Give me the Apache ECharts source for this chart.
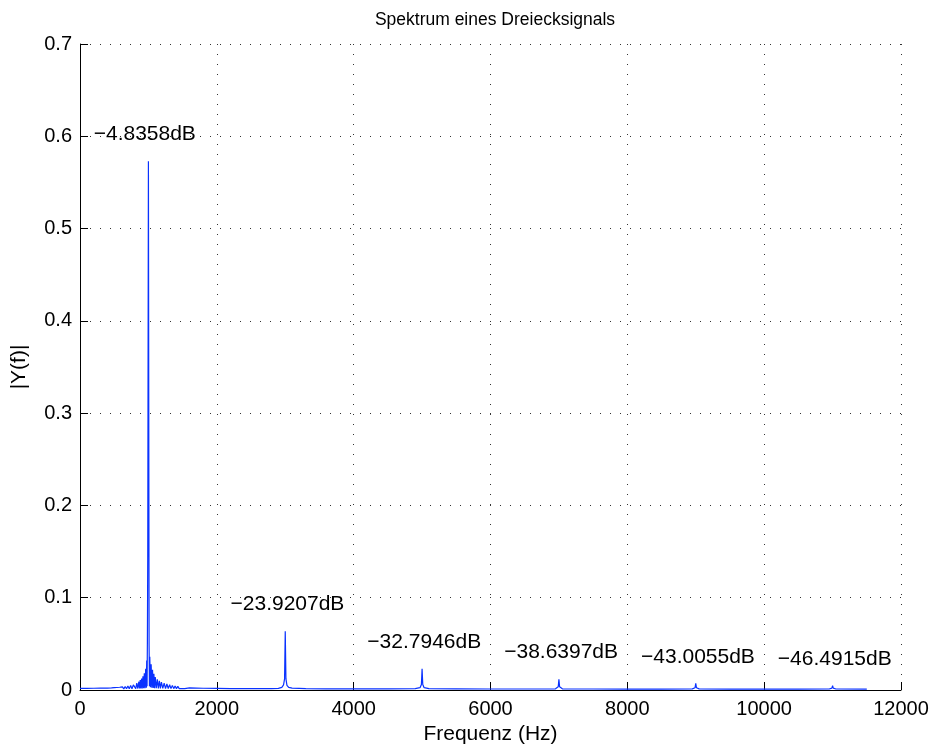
<!DOCTYPE html>
<html>
<head>
<meta charset="utf-8">
<title>Spektrum eines Dreiecksignals</title>
<script src="https://cdn.jsdelivr.net/npm/echarts@6/dist/echarts.min.js"></script>
<style>
  html, body { margin: 0; padding: 0; background: #ffffff; }
  #chart { width: 936px; height: 749px; }
</style>
</head>
<body>
<div id="chart"></div>
<script>
// Harmonics of the triangle wave and their levels in dB
const peakFreq = [1000, 3000, 5000, 7000, 9000, 11000];
const peakDb = [-4.8358, -23.9207, -32.7946, -38.6397, -43.0055, -46.4915];

// Magnitude spectrum between the harmonics (leakage skirts and noise floor)
const specFreq = [
  0, 100, 200, 300, 400, 460, 500, 520, 540, 560, 580, 600, 620, 640, 660, 680, 700, 720, 740, 760, 780,
  800, 815, 830, 845, 860, 870, 880, 890, 900, 910, 920, 930, 940, 950, 960, 970, 975, 980, 985, 990,
  1010, 1015, 1020, 1030, 1040, 1050, 1060, 1070, 1080, 1090, 1100, 1115, 1130, 1145, 1160,
  1175, 1190, 1210, 1230, 1250, 1270, 1290, 1310, 1330, 1350, 1370, 1390, 1410, 1430, 1450,
  1470, 1490, 1510, 1530, 1600, 1800, 2000, 2200, 2500, 2800, 2900, 2950, 2975, 2990,
  3010, 3025, 3050, 3100, 3300, 3600, 4000, 4500, 4900, 4970, 4990,
  5010, 5030, 5100, 5500, 6000, 6500, 6950, 6990,
  7010, 7050, 7500, 8000, 8500, 8950, 8990,
  9010, 9050, 9500, 10000, 10500, 10950, 10990,
  11010, 11050, 11500
];
const specMag = [
  0.0018, 0.0018, 0.0019, 0.0020, 0.0021, 0.0023, 0.0025, 0.0012, 0.0027, 0.0012, 0.0030, 0.0012, 0.0034, 0.0012, 0.0038, 0.0013, 0.0043, 0.0013, 0.0049, 0.0014, 0.0056, 
  0.0064, 0.0015, 0.0075, 0.0016, 0.0090, 0.0016, 0.0108, 0.0017, 0.0125, 0.0017, 0.0148, 0.0018, 0.0180, 0.0020, 0.0230, 0.0025, 0.0320, 0.0040, 0.0520, 0.1400,
  0.0480, 0.0040, 0.0360, 0.0030, 0.0280, 0.0025, 0.0220, 0.0022, 0.0175, 0.0020, 0.0140, 0.0019, 0.0115, 0.0018, 0.0098,
  0.0017, 0.0085, 0.0017, 0.0074, 0.0016, 0.0065, 0.0016, 0.0057, 0.0015, 0.0050, 0.0015, 0.0044, 0.0015, 0.0039, 0.0015,
  0.0035, 0.0015, 0.0031, 0.0015, 0.0023, 0.0019, 0.0017, 0.0015, 0.0014, 0.0015, 0.0018, 0.0028, 0.0055, 0.0120,
  0.0120, 0.0050, 0.0028, 0.0020, 0.0015, 0.0013, 0.0012, 0.0012, 0.0014, 0.0025, 0.0060,
  0.0060, 0.0025, 0.0014, 0.0012, 0.0011, 0.0011, 0.0013, 0.0035,
  0.0035, 0.0013, 0.0011, 0.0010, 0.0010, 0.0012, 0.0025,
  0.0025, 0.0012, 0.0010, 0.0010, 0.0010, 0.0011, 0.0020,
  0.0020, 0.0011, 0.0010
];

// Axis ticks
const xTicks = [0, 2000, 4000, 6000, 8000, 10000, 12000];
const yTicks = [0, 0.1, 0.2, 0.3, 0.4, 0.5, 0.6, 0.7];

const FONT = '"Liberation Sans", Arial, Helvetica, sans-serif';
const BLUE = '#0a32ff';
const LABEL_SHIFT_HZ = 800;   // text starts left of each harmonic
const LABEL_RAISE = 0.029;    // and sits above its peak

const peakMag = peakDb.map(db => Math.pow(10, db / 20));

// Merge the spectrum samples with the harmonic peaks, sorted by frequency
const lineData = specFreq.map((f, i) => [f, specMag[i]])
  .concat(peakFreq.map((f, i) => [f, peakMag[i]]))
  .sort((a, b) => a[0] - b[0]);

const labelData = peakFreq.map((f, i) => ({
  value: [f - LABEL_SHIFT_HZ, peakMag[i] + LABEL_RAISE],
  db: peakDb[i]
}));

const dbText = db => (db < 0 ? '\u2212' : '') + Math.abs(db).toFixed(4) + 'dB';
const yTickText = v => (v === 0 ? '0' : String(Math.round(v * 10) / 10));
const xTickText = v => String(Math.round(v));

const gridDots = { color: '#333333', width: 1, type: [1, 9] };

const chart = echarts.init(document.getElementById('chart'), null, { renderer: 'canvas' });
chart.setOption({
  animation: false,
  backgroundColor: '#ffffff',
  textStyle: { fontFamily: FONT },
  title: {
    text: 'Spektrum eines Dreiecksignals',
    left: 490,
    top: 6,
    textAlign: 'center',
    textStyle: { fontFamily: FONT, fontSize: 17.5, fontWeight: 'normal', color: '#000000' }
  },
  grid: { left: 80, right: 35, top: 44, bottom: 59, containLabel: false, outerBoundsMode: 'none' },
  xAxis: {
    type: 'value',
    min: xTicks[0],
    max: xTicks[xTicks.length - 1],
    interval: xTicks[1] - xTicks[0],
    name: 'Frequenz (Hz)',
    nameLocation: 'middle',
    nameGap: 34,
    nameTextStyle: { fontFamily: FONT, fontSize: 21, color: '#000000' },
    axisLine: { show: true, onZero: false, lineStyle: { color: '#000000', width: 1 } },
    axisTick: { show: true, inside: true, length: 8, lineStyle: { color: '#000000' } },
    axisLabel: { fontFamily: FONT, fontSize: 20, color: '#000000', margin: 9, formatter: xTickText },
    splitLine: { show: true, lineStyle: gridDots }
  },
  yAxis: {
    type: 'value',
    min: yTicks[0],
    max: yTicks[yTicks.length - 1],
    interval: 0.1,
    name: '|Y(f)|',
    nameLocation: 'middle',
    nameGap: 50,
    nameRotate: 90,
    nameTextStyle: { fontFamily: FONT, fontSize: 21, color: '#000000' },
    axisLine: { show: true, onZero: false, lineStyle: { color: '#000000', width: 1 } },
    axisTick: { show: true, inside: true, length: 8, lineStyle: { color: '#000000' } },
    axisLabel: { fontFamily: FONT, fontSize: 20, color: '#000000', margin: 8, formatter: yTickText },
    splitLine: { show: true, lineStyle: gridDots }
  },
  series: [
    {
      type: 'line',
      data: lineData,
      showSymbol: false,
      symbol: 'none',
      lineStyle: { color: BLUE, width: 1.2 },
      z: 3
    },
    {
      type: 'scatter',
      data: labelData,
      symbolSize: 0,
      silent: true,
      itemStyle: { opacity: 1 },
      label: {
        show: true,
        position: [0, 0],
        align: 'left',
        verticalAlign: 'middle',
        fontFamily: FONT,
        fontSize: 21,
        color: '#000000',
        opacity: 1,
        formatter: p => dbText(p.data.db)
      },
      z: 4
    }
  ]
});
</script>
</body>
</html>
